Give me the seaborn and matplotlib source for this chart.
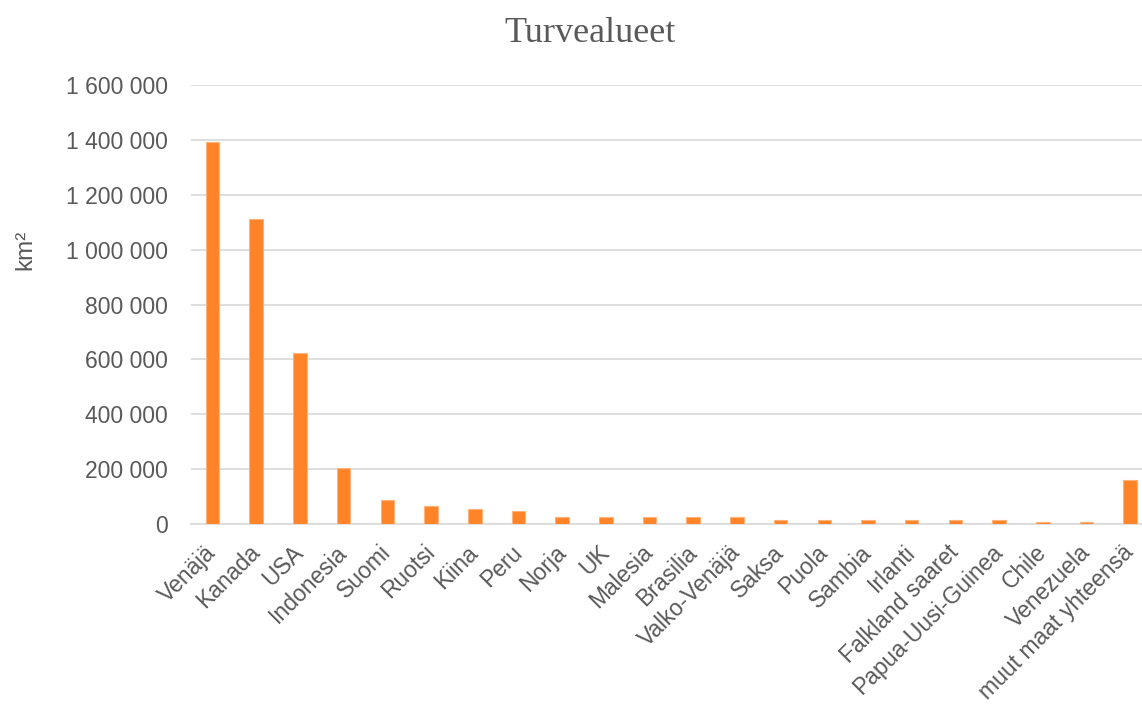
import matplotlib
matplotlib.use("Agg")
import matplotlib.pyplot as plt
import matplotlib.ticker as mticker
import seaborn as sns
import pandas as pd

countries = ["Venäjä", "Kanada", "USA", "Indonesia", "Suomi", "Ruotsi", "Kiina",
             "Peru", "Norja", "UK", "Malesia", "Brasilia", "Valko-Venäjä", "Saksa",
             "Puola", "Sambia", "Irlanti", "Falkland saaret", "Papua-Uusi-Guinea",
             "Chile", "Venezuela", "muut maat yhteensä"]
area_km2 = [1391000, 1111000, 623000, 206000, 88000, 65000, 55000,
            48000, 25000, 25000, 25000, 25000, 25000, 13000,
            13000, 13000, 13000, 13000, 13000,
            8000, 8000, 159000]
yticks = [0, 200000, 400000, 600000, 800000, 1000000, 1200000, 1400000, 1600000]

df = pd.DataFrame({"maa": countries, "km2": area_km2})

sns.set_theme(style="white")
plt.rcParams["font.family"] = ["Liberation Sans", "DejaVu Sans"]

text_gray = "#595959"
fig = plt.figure(figsize=(11.42, 7.05), dpi=100)
ax = fig.add_axes([0.167, 0.2567, 0.833, 0.6227])

sns.barplot(data=df, x="maa", y="km2", color="#FF8427", width=0.31,
            saturation=1, edgecolor="#FFB27A", linewidth=0.8, ax=ax, zorder=3)

ax.set_ylim(0, 1600000)
ax.set_xlim(-0.5, 21.27)
ax.set_yticks(yticks)
ax.yaxis.set_major_formatter(mticker.FuncFormatter(
    lambda v, p: f"{int(v):,}".replace(",", " ")))
ax.grid(axis="y", color="#d9d9d9", linewidth=1.2, zorder=0)
ax.set_axisbelow(True)
for s in ["top", "right", "left"]:
    ax.spines[s].set_visible(False)
ax.spines["bottom"].set_color("#d9d9d9")
ax.spines["bottom"].set_linewidth(1.2)

ax.tick_params(axis="y", length=0, pad=16.5, labelsize=16.5, labelcolor=text_gray)
ax.tick_params(axis="x", length=0, pad=18, labelsize=16.5, labelcolor=text_gray)
for lbl in ax.get_xticklabels():
    lbl.set_rotation(45)
    lbl.set_ha("right")
    lbl.set_va("center")
    lbl.set_rotation_mode("anchor")

ax.set_xlabel("")
ax.set_ylabel("km²", fontsize=17.5, color=text_gray)
ax.yaxis.set_label_coords(-0.162, 0.624)

fig.text(0.517, 0.952, "Turvealueet", ha="center", va="center",
         fontsize=26, color=text_gray, family=["Liberation Serif", "DejaVu Serif"])

fig.savefig("out.png", dpi=100)
